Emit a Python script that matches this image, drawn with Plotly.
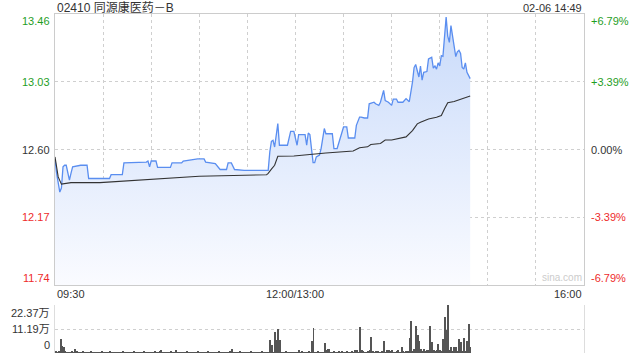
import plotly.graph_objects as go

# ---------------- data ----------------
title_text = "02410 同源康医药－B"
stamp_text = "02-06 14:49"
prev_close = 12.60
y_ticks = [11.74, 12.17, 12.60, 13.03, 13.46]
y_tick_labels = ["11.74", "12.17", "12.60", "13.03", "13.46"]
pct_labels = ["-6.79%", "-3.39%", "0.00%", "+3.39%", "+6.79%"]
time_labels = ["09:30", "12:00/13:00", "16:00"]
vol_tick_labels = ["0", "11.19万", "22.37万"]
vol_ticks = [0, 11.185, 22.37]

price_times = ["09:30", "09:31", "09:33", "09:34", "09:35", "09:36", "09:37", "09:38", "09:39", "09:40",
               "09:41", "09:46", "09:50", "09:51", "10:04", "10:05", "10:12", "10:13", "10:27", "10:28",
               "10:29", "10:30", "10:33", "10:34", "10:42", "10:43", "10:49", "10:50", "10:59", "11:03",
               "11:04", "11:10", "11:13", "11:17", "11:18", "11:20", "11:22", "11:28", "11:43", "11:44",
               "11:45", "11:46", "11:47", "11:49", "11:50", "11:55", "11:57", "11:59", "13:01", "13:02",
               "13:06", "13:07", "13:08", "13:09", "13:10", "13:11", "13:12", "13:13", "13:15", "13:16",
               "13:18", "13:19", "13:23", "13:24", "13:26", "13:28", "13:30", "13:32", "13:33", "13:37",
               "13:38", "13:40", "13:41", "13:43", "13:45", "13:46", "13:49", "13:50", "13:52", "13:53",
               "13:54", "13:55", "13:56", "13:58", "14:00", "14:01", "14:03", "14:04", "14:07", "14:09",
               "14:11", "14:13", "14:14", "14:15", "14:16", "14:17", "14:18", "14:19", "14:20", "14:22",
               "14:23", "14:25", "14:26", "14:27", "14:28", "14:29", "14:30", "14:31", "14:32", "14:33",
               "14:34", "14:35", "14:36", "14:37", "14:38", "14:39", "14:40", "14:41", "14:42", "14:43",
               "14:44", "14:45", "14:46", "14:47", "14:49"]
price_values = [12.54, 12.45, 12.33, 12.355, 12.49, 12.50, 12.50, 12.45, 12.405, 12.45,
                12.49, 12.50, 12.50, 12.416, 12.416, 12.44, 12.44, 12.515, 12.52, 12.527,
                12.49, 12.527, 12.527, 12.486, 12.486, 12.515, 12.515, 12.527, 12.54, 12.54,
                12.52, 12.51, 12.473, 12.473, 12.515, 12.515, 12.473, 12.468, 12.468, 12.585,
                12.652, 12.658, 12.616, 12.764, 12.627, 12.627, 12.715, 12.715, 12.627, 12.695,
                12.695, 12.627, 12.705, 12.695, 12.595, 12.517, 12.517, 12.553, 12.564, 12.606,
                12.733, 12.70, 12.70, 12.606, 12.606, 12.68, 12.743, 12.743, 12.673, 12.673,
                12.753, 12.806, 12.806, 12.80, 12.80, 12.89, 12.90, 12.89, 12.88, 12.90,
                12.943, 12.975, 12.91, 12.90, 12.88, 12.92, 12.92, 12.90, 12.90, 12.923,
                12.903, 13.027, 13.12, 13.14, 13.10, 13.06, 13.13, 13.04, 13.09, 13.095,
                13.175, 13.185, 13.117, 13.13, 13.11, 13.15, 13.13, 13.196, 13.192, 13.30,
                13.44, 13.32, 13.28, 13.386, 13.31, 13.24, 13.19, 13.22, 13.23, 13.21,
                13.12, 13.11, 13.15, 13.09, 13.05]

avg_times = ["09:30", "09:32", "09:34", "09:40", "09:58", "10:13", "10:44", "11:00", "11:42", "11:43",
             "11:45", "11:47", "11:49", "11:59", "13:09", "13:19", "13:36", "13:40", "13:45", "13:47",
             "13:53", "13:56", "14:00", "14:05", "14:09", "14:13", "14:16", "14:18", "14:23", "14:28",
             "14:31", "14:33", "14:35", "14:39", "14:45", "14:49"]
avg_values = [12.553, 12.426, 12.38, 12.39, 12.39, 12.40, 12.42, 12.43, 12.44, 12.448,
              12.475, 12.50, 12.557, 12.559, 12.568, 12.578, 12.59, 12.611, 12.617, 12.632,
              12.638, 12.66, 12.66, 12.67, 12.68, 12.72, 12.763, 12.773, 12.794, 12.805,
              12.816, 12.858, 12.897, 12.905, 12.926, 12.94]

# volume per trading minute starting 09:30 (unit: 万)
volume_wan = [
    0.6, 0.4, 0.5, 6.7, 3.3, 2.6, 0.5, 0.4, 0.3, 0.4,
    0.5, 0.4, 1.8, 0.5, 0.3, 0.4, 0.3, 0.5, 0.4, 0.3,
    0.4, 0.3, 0.5, 0.3, 0.4, 0.3, 0.3, 0.4, 0.3, 0.5,
    0.3, 0.4, 0.3, 0.3, 0.5, 0.4, 0.3, 0.4, 0.3, 0.3,
    0.4, 0.3, 0.5, 0.3, 0.4, 0.3, 0.4, 0.3, 0.3, 0.5,
    0.3, 0.4, 0.3, 0.4, 0.3, 0.5, 0.3, 0.4, 0.3, 0.3,
    0.4, 0.3, 0.5, 0.3, 0.4, 0.6, 1.4, 0.4, 0.3, 0.3,
    0.4, 0.3, 0.5, 0.3, 0.4, 1.4, 0.3, 0.4, 0.3, 0.3,
    0.4, 0.3, 0.5, 0.3, 0.4, 0.3, 0.4, 0.3, 0.3, 0.5,
    0.3, 0.4, 0.3, 0.4, 0.3, 0.5, 0.3, 0.4, 0.3, 0.3,
    0.4, 0.3, 0.5, 0.3, 0.4, 0.3, 0.4, 0.3, 0.3, 0.5,
    1.8, 0.4, 0.3, 0.4, 0.3, 0.5, 0.3, 0.4, 0.3, 0.3,
    0.4, 0.3, 0.5, 0.3, 0.4, 0.3, 0.4, 0.3, 0.3, 0.5,
    0.3, 0.4, 0.3, 0.4, 5.9, 3.7, 0.4, 9.9, 5.9, 11.0,
    5.9, 0.3, 0.4, 0.3, 0.5, 0.3, 0.4, 0.3, 0.4, 0.3,
    0.4, 0.3, 1.5, 0.4, 0.9, 0.3, 0.4, 0.3, 0.5, 0.3,
    5.5, 11.7, 0.4, 0.3, 0.5, 0.3, 0.4, 0.3, 4.6, 1.5,
    1.8, 1.8, 0.4, 0.3, 0.5, 0.4, 0.3, 0.5, 0.4, 0.9,
    0.4, 0.3, 0.5, 0.4, 0.3, 0.5, 0.4, 1.5, 1.5, 0.4,
    12.2, 1.4, 0.5, 0.4, 0.3, 0.5, 1.5, 7.6, 1.1, 0.4,
    1.1, 0.5, 0.4, 0.3, 0.5, 5.5, 0.4, 1.4, 1.4, 0.5,
    1.4, 0.4, 0.3, 0.5, 1.4, 0.4, 2.6, 0.5, 0.4, 1.1,
    0.5, 7.2, 14.8, 0.5, 1.8, 12.5, 8.2, 5.6, 1.8, 0.5,
    1.8, 0.5, 1.5, 1.5, 12.5, 5.3, 1.5, 0.5, 1.5, 4.1,
    1.5, 0.5, 6.4, 17.0, 10.7, 22.37, 1.4, 2.6, 0.6, 2.6,
    3.0, 0.6, 6.4, 4.9, 0.6, 7.2, 0.6, 5.6, 13.7, 2.6,
]


def to_minute(t):
    h, m = map(int, t.split(":"))
    v = h * 60 + m
    if v <= 12 * 60:
        return v - (9 * 60 + 30)
    return v - 13 * 60 + 150


px_x = [to_minute(t) for t in price_times]
avg_x = [to_minute(t) for t in avg_times]
vol_x = list(range(len(volume_wan)))

GREEN = "#1f9e1f"
RED = "#ee2b2b"
DARK = "#333333"
GRID = "#cfcfcf"
FONT = "Liberation Sans, Arial, Noto Sans CJK SC, sans-serif"

fig = go.Figure()
fig.add_trace(go.Scatter(
    x=px_x, y=price_values, mode="lines",
    line=dict(color="#5a8ef0", width=1.3),
    fill="tozeroy",
    fillgradient=dict(type="vertical", start=y_ticks[0], stop=y_ticks[-1],
                      colorscale=[[0, "rgba(250,251,255,1)"], [1, "rgba(200,218,250,1)"]]),
    xaxis="x", yaxis="y", hoverinfo="skip"))
fig.add_trace(go.Scatter(
    x=avg_x, y=avg_values, mode="lines",
    line=dict(color="#333333", width=1.1),
    xaxis="x", yaxis="y", hoverinfo="skip"))
fig.add_trace(go.Bar(
    x=vol_x, y=volume_wan, width=0.62,
    marker=dict(color="#555555", line=dict(width=0)),
    xaxis="x2", yaxis="y2", hoverinfo="skip"))

L, R = 55 / 640, 584 / 640
fig.update_layout(
    width=640, height=360, margin=dict(l=0, r=0, t=0, b=0),
    paper_bgcolor="white", plot_bgcolor="white", showlegend=False,
    bargap=0,
    xaxis=dict(domain=[L, R], range=[0, 330], tickvals=list(range(0, 331, 30)),
               showticklabels=False, ticks="", showgrid=True, gridcolor=GRID,
               griddash="dot", gridwidth=1, zeroline=False,
               showline=True, mirror=True, linecolor="#cccccc", linewidth=1),
    yaxis=dict(domain=[1 - 285 / 360, 1 - 14 / 360], range=[y_ticks[0], y_ticks[-1]],
               tickvals=y_ticks, showticklabels=False, ticks="", showgrid=True,
               gridcolor=GRID, griddash="dot", gridwidth=1, zeroline=False,
               showline=True, mirror=True, linecolor="#cccccc", linewidth=1),
    xaxis2=dict(domain=[L, R], range=[-0.5, 330], showticklabels=False, ticks="",
                showgrid=False, zeroline=False, showline=False, anchor="y2"),
    yaxis2=dict(domain=[1 - 353 / 360, 1 - 305 / 360], range=[0, 22.37],
                tickvals=vol_ticks, showticklabels=False, ticks="", showgrid=True,
                gridcolor=GRID, griddash="dot", gridwidth=1, zeroline=False,
                showline=True, mirror=True, linecolor="#dddddd", linewidth=1,
                anchor="x2"),
)

# left / right price labels
label_colors = [RED, RED, DARK, GREEN, GREEN]
for i, (v, lab, pct, col) in enumerate(zip(y_ticks, y_tick_labels, pct_labels, label_colors)):
    if i == 0:
        ya, ys = "bottom", -1
    elif i == len(y_ticks) - 1:
        ya, ys = "top", 1
    else:
        ya, ys = "middle", 0
    fig.add_annotation(x=52 / 640, xref="paper", y=v, yref="y", text=lab,
                       xanchor="right", yanchor=ya, yshift=ys, showarrow=False,
                       font=dict(family=FONT, size=11, color=col))
    fig.add_annotation(x=589 / 640, xref="paper", y=v, yref="y", text=pct,
                       xanchor="left", yanchor=ya, yshift=ys, showarrow=False,
                       font=dict(family=FONT, size=11, color=col))

# volume labels
for v, lab, ya in zip(vol_ticks, vol_tick_labels, ["bottom", "middle", "top"]):
    fig.add_annotation(x=52 / 640, xref="paper", y=v, yref="y2", text=lab,
                       xanchor="right", yanchor=ya, showarrow=False,
                       font=dict(family=FONT, size=11, color=DARK))

# time labels
for pos, lab, xa in zip([0, 150, 330], time_labels, ["left", "center", "right"]):
    fig.add_annotation(x=pos, xref="x", y=1 - 294 / 360, yref="paper", text=lab,
                       xanchor=xa, yanchor="middle", showarrow=False,
                       font=dict(family=FONT, size=11, color=DARK))

# title and timestamp
fig.add_annotation(x=L, xref="paper", y=1 - 7.5 / 360, yref="paper", text=title_text,
                   xanchor="left", yanchor="middle", showarrow=False,
                   font=dict(family="Liberation Sans, Noto Sans CJK SC, sans-serif", size=12, color=DARK))
fig.add_annotation(x=R, xref="paper", y=1 - 7.5 / 360, yref="paper", text=stamp_text,
                   xanchor="right", yanchor="middle", showarrow=False,
                   font=dict(family=FONT, size=11, color=DARK))
# watermark
fig.add_annotation(x=562 / 640, xref="paper", y=1 - 277 / 360, yref="paper", text="sina.com",
                   xanchor="center", yanchor="middle", showarrow=False,
                   font=dict(family=FONT, size=10, color="#cccccc"))

fig.write_html("out.html")
